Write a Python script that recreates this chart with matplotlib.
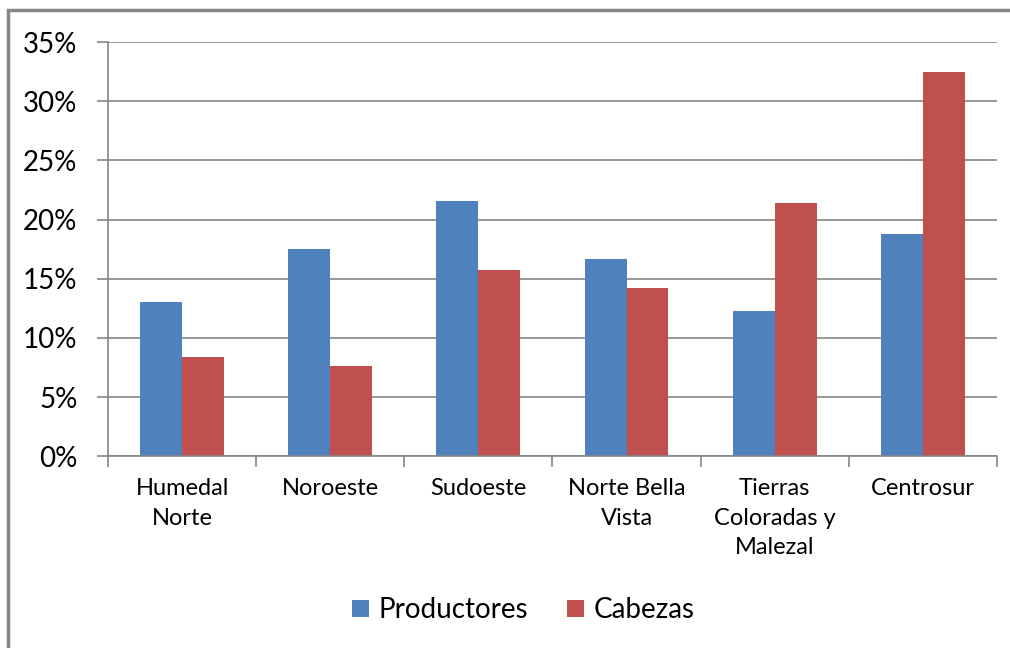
import numpy as np
import matplotlib.pyplot as plt
from matplotlib.patches import Rectangle
from matplotlib.ticker import FuncFormatter

plt.rcParams['font.family'] = ['Lato', 'DejaVu Sans']

regiones = ['Humedal\nNorte', 'Noroeste', 'Sudoeste', 'Norte Bella\nVista',
            'Tierras\nColoradas y\nMalezal', 'Centrosur']
productores = [13.0, 17.5, 21.6, 16.7, 12.3, 18.8]
cabezas = [8.4, 7.6, 15.7, 14.2, 21.4, 32.5]
yticks = [0, 5, 10, 15, 20, 25, 30, 35]

fig = plt.figure(figsize=(10.1, 6.48), dpi=100)
ax = fig.add_axes([0.107, 0.296, 0.880, 0.639])

x = np.arange(len(regiones))
w = 0.283
ax.bar(x - w / 2, productores, w, color='#4F81BD', label='Productores')
ax.bar(x + w / 2, cabezas, w, color='#C0504D', label='Cabezas')

ax.set_xlim(-0.5, len(regiones) - 0.5)
ax.set_ylim(0, 35)
ax.set_yticks(yticks)
ax.yaxis.set_major_formatter(FuncFormatter(lambda v, p: '%d%%' % v))
ax.grid(axis='y', color='#868686', linewidth=1.2)
ax.set_axisbelow(True)

# categorias entre marcas
ax.set_xticks(np.arange(len(regiones) + 1) - 0.5)
ax.set_xticklabels([])
ax.set_xticks(x, minor=True)
ax.set_xticklabels(regiones, minor=True, fontsize=17, linespacing=1.5, va='top')
ax.tick_params(axis='x', which='minor', length=0, pad=16)
ax.tick_params(axis='x', which='major', length=8, color='#868686', width=1.2)
ax.tick_params(axis='y', length=8, color='#868686', width=1.2, pad=14, labelsize=20)

for s in ['top', 'right']:
    ax.spines[s].set_visible(False)
for s in ['left', 'bottom']:
    ax.spines[s].set_color('#868686')
    ax.spines[s].set_linewidth(1.2)

fig.legend(loc='center', bbox_to_anchor=(0.518, 0.058), ncol=2, frameon=False,
           fontsize=20, handlelength=0.6, handleheight=0.6, columnspacing=1.4,
           handletextpad=0.35)

# marco del grafico (solo arriba e izquierda visibles)
fig.patches.append(Rectangle((8 / 1010, -0.1), 1.2, 1.1 - 10 / 648,
                             transform=fig.transFigure, fill=False,
                             edgecolor='#868686', linewidth=2.5))

fig.savefig('out.png', dpi=100)
